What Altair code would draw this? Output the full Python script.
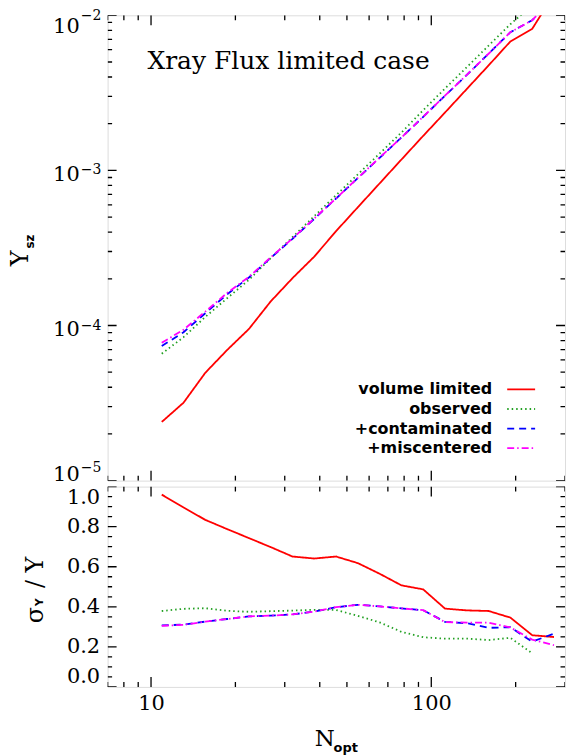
import altair as alt
import pandas as pd

# Richness bins (N_opt)
N_OPT = [10.92, 13.06, 15.62, 18.68, 22.35, 26.73, 31.97, 38.23, 45.73, 54.70,
         65.42, 78.25, 93.58, 111.9, 133.9, 160.1, 191.5, 229.1, 274.0]

# Mean SZ signal per bin
Y_VOLUME = [2.39e-5, 3.18e-5, 4.96e-5, 6.95e-5, 9.5e-5, 1.43e-4, 2.02e-4, 2.78e-4,
            4.06e-4, 5.79e-4, 8.25e-4, 1.175e-3, 1.67e-3, 2.36e-3, 3.35e-3, 4.75e-3,
            6.78e-3, 8.17e-3, 1.37e-2]
Y_OBSERVED = [6.58e-5, 8.41e-5, 1.136e-4, 1.498e-4, 1.97e-4, 2.72e-4, 3.715e-4, 5.07e-4,
              6.92e-4, 9.43e-4, 1.285e-3, 1.755e-3, 2.445e-3, 3.37e-3, 4.63e-3, 6.37e-3,
              8.76e-3, 1.16e-2]
Y_CONTAM = [7.37e-5, 9.06e-5, 1.20e-4, 1.59e-4, 2.04e-4, 2.73e-4, 3.62e-4, 4.87e-4,
            6.59e-4, 8.92e-4, 1.205e-3, 1.63e-3, 2.215e-3, 3.03e-3, 4.13e-3, 5.65e-3,
            7.78e-3, 9.29e-3, 1.30e-2]
Y_MISC = [7.74e-5, 9.4e-5, 1.23e-4, 1.62e-4, 2.06e-4, 2.75e-4, 3.64e-4, 4.9e-4,
          6.6e-4, 8.95e-4, 1.21e-3, 1.63e-3, 2.22e-3, 3.03e-3, 4.13e-3, 5.65e-3,
          7.78e-3, 9.29e-3, 1.30e-2]

# Fractional scatter per bin
SIG_VOLUME = [0.960, 0.896, 0.834, 0.788, 0.743, 0.698, 0.651, 0.641, 0.651, 0.618,
              0.565, 0.507, 0.487, 0.391, 0.382, 0.379, 0.346, 0.258, 0.249]
SIG_OBSERVED = [0.379, 0.390, 0.393, 0.380, 0.375, 0.378, 0.381, 0.385, 0.384, 0.355,
                0.322, 0.275, 0.248, 0.241, 0.241, 0.234, 0.245, 0.168]
SIG_CONTAM = [0.307, 0.311, 0.326, 0.339, 0.352, 0.356, 0.362, 0.376, 0.398, 0.410,
              0.402, 0.392, 0.383, 0.325, 0.318, 0.295, 0.298, 0.226, 0.266]
SIG_MISC = [0.305, 0.310, 0.326, 0.339, 0.352, 0.356, 0.362, 0.376, 0.398, 0.410,
            0.402, 0.392, 0.383, 0.324, 0.321, 0.321, 0.297, 0.236, 0.208]

SERIES = ["volume limited", "observed", "+contaminated", "+miscentered"]
COLORS = ["#ff0000", "#22a022", "#0000ff", "#ff00ff"]
DASHES = [[1, 0], [1.5, 3], [7, 5], [7, 3, 1.5, 3]]

# Axis ticks and labels
X_MAJOR = [10, 100]
X_MINOR = [7, 8, 9, 20, 30, 40, 50, 60, 70, 80, 90, 200, 300]
YTOP_MAJOR = [1e-5, 1e-4, 1e-3, 1e-2]
YTOP_EXPONENTS = ["−5", "−4", "−3", "−2"]
YTOP_MINOR = [2e-5, 3e-5, 4e-5, 5e-5, 6e-5, 7e-5, 8e-5, 9e-5,
              2e-4, 3e-4, 4e-4, 5e-4, 6e-4, 7e-4, 8e-4, 9e-4,
              2e-3, 3e-3, 4e-3, 5e-3, 6e-3, 7e-3, 8e-3, 9e-3]
YBOT_MAJOR = [0.0, 0.2, 0.4, 0.6, 0.8, 1.0]
YBOT_MINOR = [0.05, 0.1, 0.15, 0.25, 0.3, 0.35, 0.45, 0.5, 0.55,
              0.65, 0.7, 0.75, 0.85, 0.9, 0.95]

W = 459
H_TOP = 467
H_BOT = 201

SERIF = "DejaVu Serif"
SANS = "DejaVu Sans"

x_scale = alt.Scale(type="log", domain=[7, 300], nice=False)
ytop_scale = alt.Scale(type="log", domain=[1e-5, 1e-2], nice=False)
ybot_scale = alt.Scale(type="linear", domain=[0, 1], nice=False, zero=False)

LABEL_STYLE = dict(ticks=False, tickSize=0, domain=False, grid=False, title=None,
                   labelFont=SERIF, labelFontSize=21, labelColor="black")

ybot_axis = alt.Axis(values=YBOT_MAJOR, format=".1f", labelFlush=True, labelPadding=8,
                     **LABEL_STYLE)
xbot_axis = alt.Axis(values=X_MAJOR, format="d", labelFlush=False, labelPadding=6,
                     **LABEL_STYLE)


def series_lines(values_list, y_scale, x_axis, y_axis):
    layers = []
    for name, vals, color, dash in zip(SERIES, values_list, COLORS, DASHES):
        df = pd.DataFrame({"N": N_OPT[:len(vals)], "v": vals})
        layers.append(
            alt.Chart(df).mark_line(color=color, strokeDash=dash, strokeWidth=1.8, clip=True)
            .encode(x=alt.X("N:Q", scale=x_scale, axis=x_axis),
                    y=alt.Y("v:Q", scale=y_scale, axis=y_axis))
        )
    return layers


def tick_layers(height, y_scale, y_major, y_minor, x_axis, y_axis):
    layers = []
    for vals, length in ((X_MAJOR, 10), (X_MINOR, 5)):
        base = alt.Chart(pd.DataFrame({"t": vals})).mark_rule(color="black", strokeWidth=1.3, clip=True)
        xe = alt.X("t:Q", scale=x_scale, axis=x_axis)
        layers.append(base.encode(x=xe, y=alt.value(height), y2=alt.value(height - length)))
        layers.append(base.encode(x=xe, y=alt.value(0), y2=alt.value(length)))
    for vals, length in ((y_major, 9), (y_minor, 4.5)):
        base = alt.Chart(pd.DataFrame({"t": vals})).mark_rule(color="black", strokeWidth=1.3, clip=True)
        ye = alt.Y("t:Q", scale=y_scale, axis=y_axis)
        layers.append(base.encode(y=ye, x=alt.value(0), x2=alt.value(length)))
        layers.append(base.encode(y=ye, x=alt.value(W), x2=alt.value(W - length)))
    return layers


def decade_labels():
    """'10' with a raised exponent at each decade of the log axis."""
    df = pd.DataFrame({"v": YTOP_MAJOR, "e": YTOP_EXPONENTS, "b": ["10"] * 4})
    layers = []
    # (rows, shift of the base, shift of the exponent): end labels sit inside the frame
    for rows, dy_base, dy_exp in ((slice(1, 3), 5, 0), (slice(3, 4), 12, 1), (slice(0, 1), -6, -13)):
        part = df.iloc[rows]
        ye = alt.Y("v:Q", scale=ytop_scale, axis=None)
        layers.append(alt.Chart(part).mark_text(
            font=SERIF, fontSize=21, align="right", baseline="middle", dy=dy_base, color="black"
        ).encode(y=ye, x=alt.value(-28), text="b:N"))
        layers.append(alt.Chart(part).mark_text(
            font=SERIF, fontSize=14, align="left", baseline="middle", dy=dy_exp, color="black"
        ).encode(y=ye, x=alt.value(-27), text="e:N"))
    return layers


def label(text, x, y, font=SERIF, size=22, weight="normal", angle=0, align="center",
          baseline="middle"):
    return alt.Chart(pd.DataFrame({"s": [text]})).mark_text(
        font=font, fontSize=size, fontWeight=weight, angle=angle, align=align,
        baseline=baseline, color="black"
    ).encode(text="s:N", x=alt.value(x), y=alt.value(y))


# Transparent rule fixing the left extent of the figure
anchor = alt.Chart(pd.DataFrame({"s": [0]})).mark_rule(opacity=0).encode(
    x=alt.value(-107), y=alt.value(100), y2=alt.value(110)
)

# Legend: labels on the left, line samples on the right
legend_layers = []
for i, (name, color, dash) in enumerate(zip(SERIES, COLORS, DASHES)):
    yy = 375.5 + 19.6 * i
    legend_layers.append(label(name, 386, yy, font=SANS, size=16, weight="bold", align="right"))
    legend_layers.append(
        alt.Chart(pd.DataFrame({"s": [name]})).mark_rule(color=color, strokeDash=dash, strokeWidth=1.8)
        .encode(x=alt.value(401), x2=alt.value(429), y=alt.value(yy))
    )

top = alt.layer(
    *series_lines([Y_VOLUME, Y_OBSERVED, Y_CONTAM, Y_MISC], ytop_scale, None, None),
    *tick_layers(H_TOP, ytop_scale, YTOP_MAJOR, YTOP_MINOR, None, None),
    *decade_labels(),
    anchor,
    label("Xray Flux limited case", 40, 54, size=25, align="left", baseline="alphabetic"),
    label("Y", -87, 244, size=24, angle=270),
    label("sz", -78, 227, font=SANS, size=12, weight="bold", angle=270),
    *legend_layers,
).properties(width=W, height=H_TOP)

bottom = alt.layer(
    *series_lines([SIG_VOLUME, SIG_OBSERVED, SIG_CONTAM, SIG_MISC], ybot_scale, xbot_axis, ybot_axis),
    *tick_layers(H_BOT, ybot_scale, YBOT_MAJOR, YBOT_MINOR, xbot_axis, ybot_axis),
    label("σ", -72, 129, size=24, angle=270),
    label("Y", -68, 116, font=SANS, size=11, weight="bold", angle=270),
    label("/ Y", -72, 86, size=24, angle=270),
    label("N", 218, 253, size=23),
    label("opt", 239, 262, font=SANS, size=13, weight="bold"),
).properties(width=W, height=H_BOT)

chart = alt.vconcat(top, bottom, spacing=0).properties(
    padding={"left": 0, "top": 7, "right": 0, "bottom": 0}
).configure_view(stroke="black", strokeWidth=1.6).configure(background="white")

chart.save("out.html", embed_options={"renderer": "svg", "actions": False})
